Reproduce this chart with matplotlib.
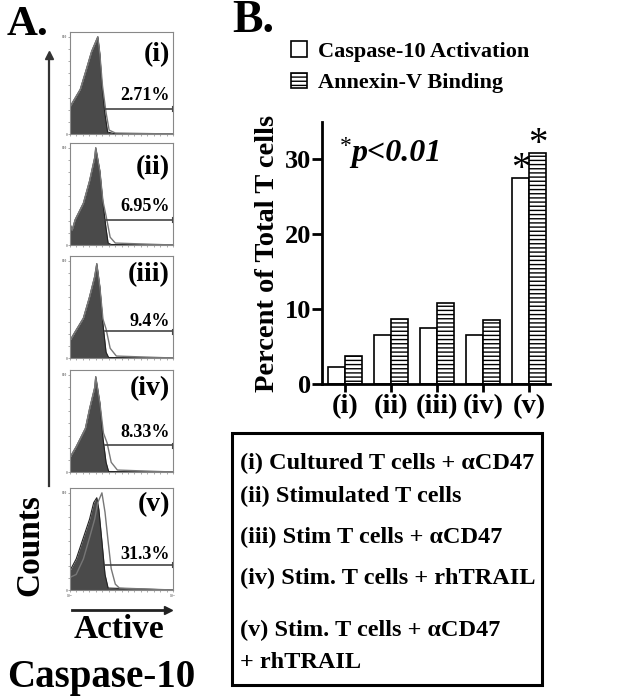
import numpy as np
import matplotlib
matplotlib.use("Agg")
import matplotlib.pyplot as plt
from matplotlib.patches import Patch, Rectangle

plt.rcParams['font.family'] = ['Liberation Serif', 'DejaVu Serif']
plt.rcParams['font.weight'] = 'bold'
plt.rcParams['hatch.linewidth'] = 1.0

W, H = 629, 698

def fx(px):
    return px / W

def fy(py):
    return 1 - py / H

# ---- panel B data ----
groups = ['(i)', '(ii)', '(iii)', '(iv)', '(v)']
caspase = [2.3, 6.6, 7.5, 6.5, 27.5]
annexin = [3.7, 8.7, 10.8, 8.5, 30.8]
sig_groups = [4]

# ---- panel A data (x in decades, y in % of max) ----
hist_labels = ['(i)', '(ii)', '(iii)', '(iv)', '(v)']
hist_pct = ['2.71%', '6.95%', '9.4%', '8.33%', '31.3%']
filled_x = [
    [0, 0.4, 0.64, 0.84, 1.0, 1.08, 1.16, 1.24, 1.36, 1.46, 1.7, 4.0],
    [0, 0.08, 0.2, 0.52, 0.76, 0.96, 1.0, 1.16, 1.28, 1.4, 1.48, 1.6, 4.0],
    [0, 0.2, 0.52, 0.76, 0.96, 1.04, 1.16, 1.28, 1.4, 1.5, 4.0],
    [0, 0.24, 0.6, 0.76, 0.96, 1.0, 1.16, 1.28, 1.4, 1.5, 4.0],
    [0, 0.24, 0.52, 0.76, 0.92, 1.04, 1.12, 1.24, 1.36, 1.48, 4.0],
]
filled_y = [
    [28, 46, 67, 85, 95, 100, 82, 50, 20, 2, 0.5, 0],
    [22, 15, 26, 43, 66, 90, 100, 76, 43, 17, 2, 0.5, 0],
    [18, 27, 41, 63, 84, 97, 73, 35, 6, 0.5, 0],
    [15, 26, 45, 65, 87, 98, 71, 35, 10, 0.5, 0],
    [20, 32, 54, 73, 90, 95, 83, 50, 16, 2, 0],
]
outline_x = [
    [0, 0.4, 0.64, 0.84, 1.0, 1.08, 1.16, 1.26, 1.4, 1.52, 1.76, 4.0],
    [0, 0.08, 0.2, 0.52, 0.76, 0.96, 1.0, 1.16, 1.28, 1.4, 1.56, 1.76, 4.0],
    [0, 0.2, 0.52, 0.76, 0.96, 1.04, 1.16, 1.28, 1.4, 1.56, 1.8, 4.0],
    [0, 0.24, 0.6, 0.76, 0.96, 1.0, 1.16, 1.3, 1.44, 1.6, 1.84, 4.0],
    [0, 0.24, 0.52, 0.76, 0.96, 1.08, 1.24, 1.36, 1.48, 1.6, 1.76, 1.92, 4.0],
]
outline_y = [
    [28, 46, 67, 85, 95, 100, 82, 50, 22, 4, 1, 0],
    [22, 15, 26, 43, 66, 90, 100, 76, 45, 30, 8, 2, 0],
    [18, 27, 41, 63, 84, 97, 73, 40, 30, 10, 2, 0],
    [15, 26, 45, 65, 87, 98, 71, 40, 30, 10, 2, 0],
    [13, 16, 32, 54, 73, 90, 100, 80, 50, 22, 6, 2, 0],
]
gate_y = [0.25, 0.25, 0.26, 0.26, 0.25]
pct_y = [0.38, 0.38, 0.36, 0.39, 0.35]
lab_y = [0.78, 0.76, 0.82, 0.82, 0.84]
hist_tops = [32, 143, 256, 370, 488]

legend_lines = [
    '(i) Cultured T cells + \u03b1CD47',
    '(ii) Stimulated T cells',
    '(iii) Stim T cells + \u03b1CD47',
    '(iv) Stim. T cells + rhTRAIL',
    '(v) Stim. T cells + \u03b1CD47',
    '+ rhTRAIL',
]
legend_ys = [463, 496, 537, 578, 630, 663]

fig = plt.figure(figsize=(W / 100, H / 100), dpi=100)

# ---------------- panel A ----------------
for i in range(5):
    top = hist_tops[i]
    ax = fig.add_axes([fx(70), fy(top + 102), 103 / W, 102 / H])
    ax.fill_between(filled_x[i], filled_y[i], color='#4a4a4a', lw=0)
    ax.plot(filled_x[i], filled_y[i], color='#222222', lw=0.8)
    ax.plot(outline_x[i], outline_y[i], color='#777777', lw=1.0)
    ax.set_xlim(0, 4)
    ax.set_ylim(0, 105)
    gy = gate_y[i] * 105
    ax.plot([1.36, 3.96], [gy, gy], color='#444444', lw=1.2)
    ax.plot([3.96, 3.96], [gy - 3, gy + 3], color='#444444', lw=0.8)
    ax.text(0.97, pct_y[i], hist_pct[i], transform=ax.transAxes, ha='right',
            va='center', fontsize=13, fontweight='bold')
    ax.text(0.97, lab_y[i], hist_labels[i], transform=ax.transAxes, ha='right',
            va='center', fontsize=20, fontweight='bold')
    for s in ax.spines.values():
        s.set_color('#888888')
        s.set_linewidth(0.8)
    ax.set_xticks([0, 1, 2, 3, 4])
    ax.set_xticks(np.arange(0, 4, 0.25), minor=True)
    ax.set_yticks([0, 100])
    ax.set_yticks(np.arange(0, 100, 12.5), minor=True)
    ax.tick_params(which='both', length=1.5, width=0.5, color='#888888',
                   labelsize=2.5, pad=0.5, labelcolor='#777777')
    ax.set_yticklabels(['0', '100'])
    if i == 4:
        ax.set_xticklabels(['10$^0$', '', '', '', '10$^4$'])
    else:
        ax.set_xticklabels([])

fig.text(fx(7), fy(25), 'A.', fontsize=31, fontweight='bold', va='center')

fig.add_artist(plt.Line2D([fx(49), fx(49)], [fy(486), fy(58)], color='#333333',
                          lw=1.6, transform=fig.transFigure))
fig.add_artist(plt.Line2D([fx(49)], [fy(55)], marker='^', markersize=6,
                          color='#333333', transform=fig.transFigure))
fig.text(fx(30), fy(545), 'Counts', rotation=90, fontsize=24, fontweight='bold',
         ha='center', va='center')
fig.add_artist(plt.Line2D([fx(72), fx(166)], [fy(610), fy(610)], color='#222222',
                          lw=2, transform=fig.transFigure))
fig.add_artist(plt.Line2D([fx(168)], [fy(610)], marker='>', markersize=6,
                          color='#222222', transform=fig.transFigure))
fig.text(fx(119), fy(630), 'Active', fontsize=24, fontweight='bold',
         ha='center', va='center')
fig.text(fx(101), fy(677), 'Caspase-10', fontsize=28, fontweight='bold',
         ha='center', va='center')

# ---------------- panel B ----------------
axb = fig.add_axes([fx(322), fy(384), 228 / W, 262 / H])
xpos = np.arange(len(groups))
w = 0.37
axb.bar(xpos - w / 2, caspase, w, facecolor='white', edgecolor='black', lw=1.2)
axb.bar(xpos + w / 2, annexin, w, facecolor='white', edgecolor='black', lw=1.2,
        hatch='----')
for g in sig_groups:
    axb.text(xpos[g] - w / 2, caspase[g] + 1.2, '*', fontsize=28, ha='center',
             va='center', fontweight='normal')
    axb.text(xpos[g] + w / 2, annexin[g] + 1.2, '*', fontsize=28, ha='center',
             va='center', fontweight='normal')
axb.set_xlim(-0.5, 4.46)
axb.set_ylim(0, 35)
axb.set_yticks([0, 10, 20, 30])
axb.set_xticks(xpos)
axb.set_xticklabels(groups)
axb.spines['top'].set_visible(False)
axb.spines['right'].set_visible(False)
axb.spines['left'].set_linewidth(2)
axb.spines['bottom'].set_linewidth(2)
axb.tick_params(axis='y', length=7, width=2, labelsize=19, pad=1)
axb.tick_params(axis='x', length=6, width=2, labelsize=20.5, pad=1)
for t in axb.get_xticklabels() + axb.get_yticklabels():
    t.set_fontweight('bold')
axb.set_ylabel('Percent of Total T cells', fontsize=20.5, fontweight='bold',
               labelpad=3)
axb.text(0.08, 0.905, '*', transform=axb.transAxes, fontsize=17,
         fontweight='normal', va='center')
axb.text(0.13, 0.88, 'p<0.01', transform=axb.transAxes, fontsize=23,
         fontstyle='italic', fontweight='bold', va='center')

fig.text(fx(232), fy(21), 'B.', fontsize=33, fontweight='bold', va='center')

handles = [Patch(facecolor='white', edgecolor='black', lw=1.2),
           Patch(facecolor='white', edgecolor='black', lw=1.2, hatch='----')]
fig.legend(handles, ['Caspase-10 Activation', 'Annexin-V Binding'],
           loc='upper left', bbox_to_anchor=(fx(291), fy(41)), frameon=False,
           prop={'size': 16, 'weight': 'bold'}, handlelength=0.7,
           handleheight=0.7, handletextpad=0.5, labelspacing=0.5,
           borderaxespad=0, borderpad=0)

# ---------------- condition box ----------------
fig.add_artist(Rectangle((fx(232), fy(685)), (542 - 232) / W, (685 - 433) / H,
                         transform=fig.transFigure, facecolor='none',
                         edgecolor='black', lw=2.2))
for line, ly in zip(legend_lines, legend_ys):
    fig.text(fx(240), fy(ly), line, fontsize=17.5, fontweight='bold', va='center')

fig.savefig('out.png', dpi=100)
